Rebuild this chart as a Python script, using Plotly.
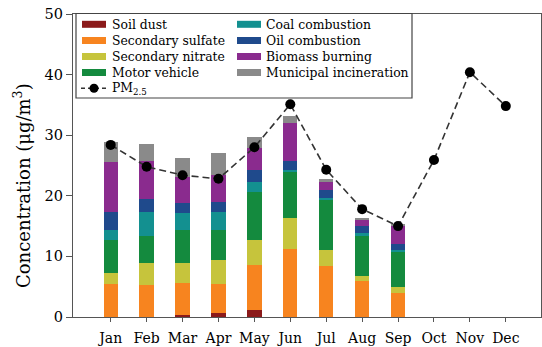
import plotly.graph_objects as go

months = ["Jan", "Feb", "Mar", "Apr", "May", "Jun", "Jul", "Aug", "Sep", "Oct", "Nov", "Dec"]
bar_months = months[:9]

soil_dust = [0.0, 0.0, 0.3, 0.6, 1.1, 0.0, 0.0, 0.0, 0.0]
secondary_sulfate = [5.4, 5.2, 5.3, 4.8, 7.5, 11.2, 8.4, 5.9, 3.9]
secondary_nitrate = [1.85, 3.7, 3.3, 3.95, 4.1, 5.2, 2.6, 0.8, 1.1]
motor_vehicle = [5.45, 4.4, 5.5, 5.05, 8.0, 7.5, 8.4, 6.8, 5.8]
coal_combustion = [1.6, 4.05, 2.7, 2.95, 1.5, 0.4, 0.3, 0.3, 0.2]
oil_combustion = [3.05, 2.05, 1.7, 1.65, 2.0, 1.4, 1.2, 1.2, 1.0]
biomass_burning = [8.15, 6.4, 4.3, 4.4, 3.7, 6.3, 1.4, 1.0, 3.1]
municipal_incineration = [3.3, 2.8, 3.1, 3.6, 1.8, 1.1, 0.5, 0.4, 0.2]
pm25 = [28.4, 24.8, 23.4, 22.8, 28.0, 35.1, 24.3, 17.8, 15.0, 25.9, 40.4, 34.8]

series_names = ["Soil dust", "Secondary sulfate", "Secondary nitrate", "Motor vehicle",
                "Coal combustion", "Oil combustion", "Biomass burning", "Municipal incineration"]
series_values = [soil_dust, secondary_sulfate, secondary_nitrate, motor_vehicle,
                 coal_combustion, oil_combustion, biomass_burning, municipal_incineration]
series_colors = ["#8B1A1A", "#F7841F", "#C6C43C", "#148A3E",
                 "#139090", "#1F4A8C", "#8A2B8E", "#8A8A8A"]

FONT = "DejaVu Serif"
W, H = 542, 347
L, R, T, B = 73, 1, 14, 30
PW, PH = W - L - R, H - T - B


def px(x):
    return (x - L) / PW


def py(y):
    return (H - B - y) / PH


fig = go.Figure()
for name, vals, col in zip(series_names, series_values, series_colors):
    fig.add_trace(go.Bar(x=bar_months, y=vals, name=name, marker=dict(color=col, line=dict(width=0)),
                         width=0.4, showlegend=False))

fig.add_trace(go.Scatter(x=months, y=pm25, mode="lines+markers", name="PM2.5",
                         line=dict(color="#333333", width=1.6, dash="7px,4px"),
                         marker=dict(color="black", size=10), showlegend=False))

shapes = []
annotations = []
shapes.append(dict(type="rect", xref="paper", yref="paper", x0=px(76), x1=px(412), y0=py(98), y1=py(13.5),
                   line=dict(color="#444444", width=1.2), fillcolor="white", layer="above"))
rows = [24.3, 40.5, 56.5, 72.5, 88.3]
cols = [(82, 106, 110), (237, 261, 264)]
for i, (name, col) in enumerate(zip(series_names, series_colors)):
    c = cols[i // 4]
    yc = rows[i % 4]
    shapes.append(dict(type="rect", xref="paper", yref="paper", x0=px(c[0]), x1=px(c[1]),
                       y0=py(yc + 3.5), y1=py(yc - 3.5), line=dict(width=0), fillcolor=col, layer="above"))
    annotations.append(dict(text=name, xref="paper", yref="paper", x=px(c[2]), y=py(yc),
                            xanchor="left", yanchor="middle", showarrow=False,
                            font=dict(family=FONT, size=12.4, color="black")))
yc = rows[4]
shapes.append(dict(type="line", xref="paper", yref="paper", x0=px(81), x1=px(107), y0=py(yc), y1=py(yc),
                   line=dict(color="#333333", width=1.4, dash="4px,3px"), layer="above"))
shapes.append(dict(type="circle", xref="paper", yref="paper", x0=px(89.5), x1=px(98.5),
                   y0=py(yc + 4.5), y1=py(yc - 4.5), line=dict(width=0), fillcolor="black", layer="above"))
annotations.append(dict(text="PM<sub>2.5</sub>", xref="paper", yref="paper", x=px(110), y=py(yc),
                        xanchor="left", yanchor="middle", showarrow=False,
                        font=dict(family=FONT, size=12.4, color="black")))
annotations.append(dict(text="Concentration (μg/m<sup>3</sup>)", xref="paper", yref="paper",
                        x=px(22), y=py(186), xanchor="center", yanchor="middle", textangle=-90,
                        showarrow=False, font=dict(family=FONT, size=18, color="black")))

fig.update_layout(
    width=W, height=H, margin=dict(l=L, r=R, t=T, b=B),
    barmode="stack", plot_bgcolor="white", paper_bgcolor="white",
    font=dict(family=FONT, size=14, color="black"),
    shapes=shapes, annotations=annotations, showlegend=False,
)
fig.update_xaxes(categoryorder="array", categoryarray=months, range=[-1.05, 11.98],
                 showline=True, linecolor="#555555", linewidth=1.2, mirror=True, tickangle=0,
                 ticks="outside", ticklen=4, tickcolor="#555555", showgrid=False,
                 ticklabelstandoff=4,
                 tickfont=dict(family=FONT, size=14, color="black"))
fig.update_yaxes(range=[0, 50], tickvals=[0, 10, 20, 30, 40, 50],
                 showline=True, linecolor="#555555", linewidth=1.2, mirror=True,
                 ticks="outside", ticklen=6, tickcolor="#555555", showgrid=False, zeroline=False,
                 tickfont=dict(family=FONT, size=14.5, color="black"))

fig.write_html("out.html")
